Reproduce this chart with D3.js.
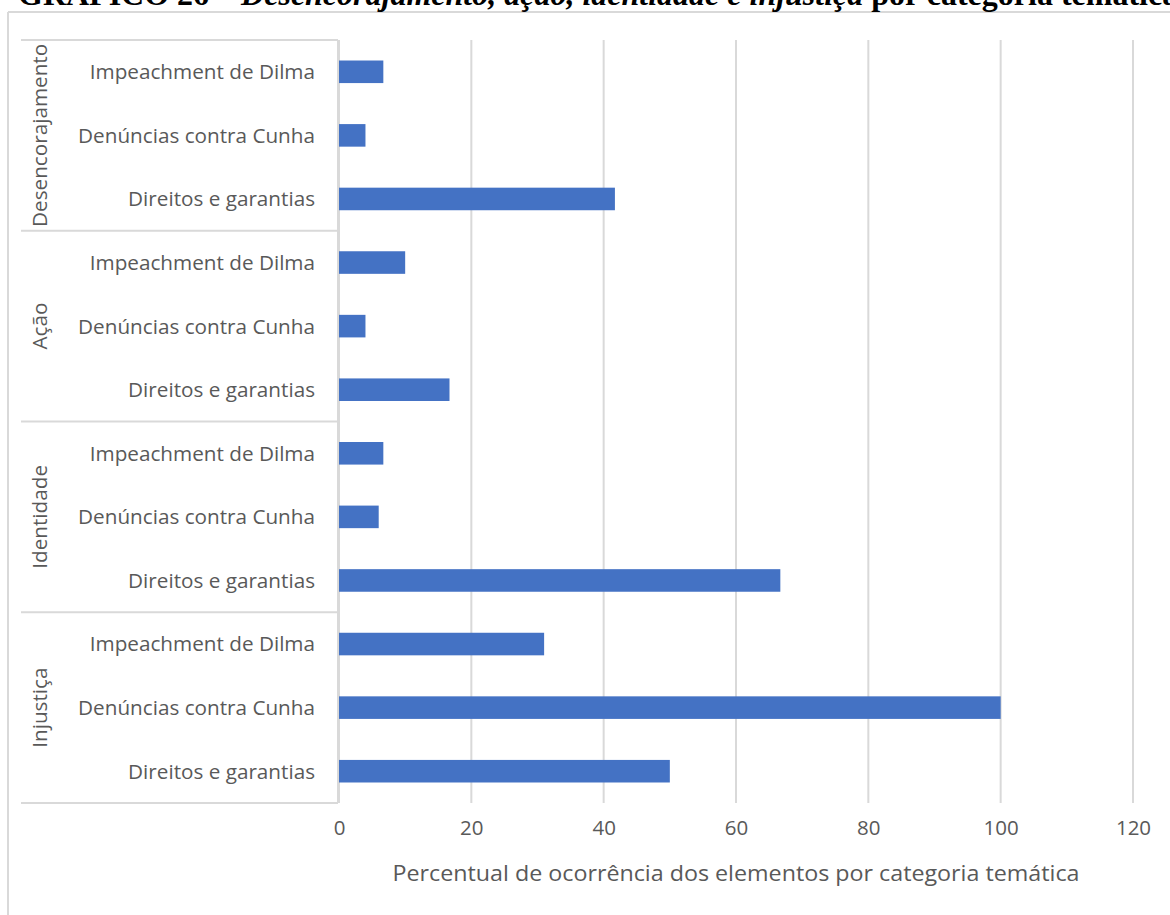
<!DOCTYPE html>
<html>
<head>
<meta charset="utf-8">
<script src="https://cdn.jsdelivr.net/npm/d3@7"></script>
<style>
  html, body { margin: 0; padding: 0; background: #fff; }
  svg { display: block; }
</style>
</head>
<body>
<svg id="chart" width="1170" height="915"></svg>
<script>
// ---- data ----
const groups = ["Desencorajamento", "Ação", "Identidade", "Injustiça"];
const subcats = ["Impeachment de Dilma", "Denúncias contra Cunha", "Direitos e garantias"];
const desencorajamento = [6.7, 4, 41.7];
const acao = [10, 4, 16.7];
const identidade = [6.7, 6, 66.7];
const injustica = [31, 100, 50];
const xTicks = [0, 20, 40, 60, 80, 100, 120];
const titleStart = "GRÁFICO 26 – ";
const titleItalic = "Desencorajamento, ação, identidade e injustiça";
const titleEnd = " por categoria temática";
const xTitle = "Percentual de ocorrência dos elementos por categoria temática";

const seriesByGroup = [desencorajamento, acao, identidade, injustica];
const rows = [];
groups.forEach((g, gi) => subcats.forEach((s, si) => rows.push({ key: g + "|" + s, group: g, sub: s, value: seriesByGroup[gi][si] })));

// ---- layout ----
const svg = d3.select("#chart");
const plotL = 339, plotR = 1133, plotT = 40, plotB = 803;
const grey = "#d9d9d9", textCol = "#595959", barCol = "#4472C4";

const x = d3.scaleLinear().domain([0, 120]).range([plotL, plotR]);
const pad = 0.645;
const y = d3.scaleBand().domain(rows.map(r => r.key)).range([plotT, plotB]).paddingInner(pad).paddingOuter(pad / 2);
const step = y.step();

// outer frame
svg.append("line").attr("x1", 8).attr("x2", 1170).attr("y1", 12).attr("y2", 12).attr("stroke", grey).attr("stroke-width", 2);
svg.append("line").attr("x1", 8).attr("x2", 8).attr("y1", 12).attr("y2", 915).attr("stroke", grey).attr("stroke-width", 2);

// title (cut at top, as in the reference)
const title = svg.append("text").attr("x", 18).attr("y", 5)
  .attr("font-family", "'Liberation Serif', 'Times New Roman', serif").attr("font-weight", "bold").attr("font-size", 32).attr("fill", "#000");
title.append("tspan").text(titleStart);
title.append("tspan").attr("font-style", "italic").text(titleItalic);
title.append("tspan").text(titleEnd);

// gridlines
svg.append("g").selectAll("line").data(xTicks).join("line")
  .attr("x1", d => x(d)).attr("x2", d => x(d)).attr("y1", plotT).attr("y2", plotB)
  .attr("stroke", grey).attr("stroke-width", 2);

// x tick labels via axis
const xAxis = svg.append("g").attr("transform", `translate(0,${plotB})`)
  .call(d3.axisBottom(x).tickValues(xTicks).tickSize(0).tickPadding(17));
xAxis.select(".domain").remove();
xAxis.selectAll("text").attr("font-family", "'Open Sans', sans-serif").attr("font-size", 20.5).attr("fill", textCol);

// bars
svg.append("g").selectAll("rect").data(rows).join("rect")
  .attr("x", x(0)).attr("y", d => y(d.key)).attr("width", d => x(d.value) - x(0)).attr("height", y.bandwidth())
  .attr("fill", barCol);

// vertical axis line
svg.append("line").attr("x1", plotL - 1).attr("x2", plotL - 1).attr("y1", plotT).attr("y2", plotB).attr("stroke", grey).attr("stroke-width", 2);

// category labels
svg.append("g").selectAll("text").data(rows).join("text")
  .attr("x", 315).attr("y", d => y(d.key) + y.bandwidth() / 2).attr("dy", "0.36em")
  .attr("text-anchor", "end").attr("font-family", "'Open Sans', sans-serif").attr("font-size", 20.7).attr("fill", textCol)
  .text(d => d.sub);

// group separators
const bounds = groups.map((g, gi) => plotT + gi * 3 * step).concat([plotB]);
svg.append("g").selectAll("line").data(bounds).join("line")
  .attr("x1", 21).attr("x2", plotL - 1).attr("y1", d => d).attr("y2", d => d)
  .attr("stroke", grey).attr("stroke-width", 2);

// group labels
svg.append("g").selectAll("text").data(groups).join("text")
  .attr("transform", (g, gi) => `translate(40,${plotT + (gi * 3 + 1.5) * step}) rotate(-90)`)
  .attr("dy", "0.36em").attr("text-anchor", "middle")
  .attr("font-family", "'Open Sans', sans-serif").attr("font-size", 20.7).attr("fill", textCol)
  .text(g => g);

// x axis title
svg.append("text").attr("x", (plotL + plotR) / 2).attr("y", 873).attr("dy", "0.36em")
  .attr("text-anchor", "middle").attr("font-family", "'Open Sans', sans-serif").attr("font-size", 21.5).attr("fill", textCol)
  .attr("textLength", 687).attr("lengthAdjust", "spacingAndGlyphs")
  .text(xTitle);
</script>
</body>
</html>
